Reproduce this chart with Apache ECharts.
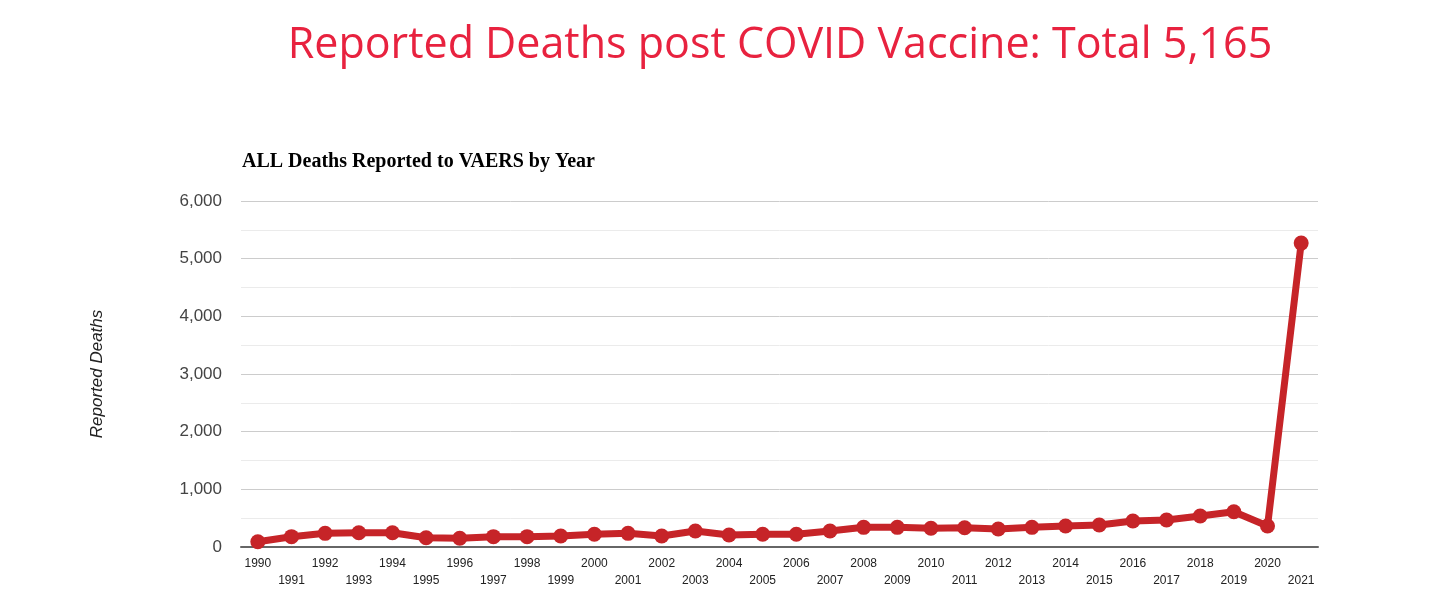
<!DOCTYPE html>
<html>
<head>
<meta charset="utf-8">
<script src="https://cdn.jsdelivr.net/npm/echarts@6/dist/echarts.min.js"></script>
<style>
    html, body { margin: 0; padding: 0; background: #fff; }
    #main { width: 1429px; height: 615px; }
</style>
</head>
<body>
<div id="main"></div>
<script>
    // years on the x axis
    var years = [];
    for (var y = 1990; y <= 2021; y++) years.push(String(y));
    // reported deaths per year
    var deaths = [92, 179, 237, 248, 248, 161, 151, 179, 179, 190, 220, 237, 190, 277, 208, 220,
                  220, 277, 341, 341, 324, 335, 312, 341, 364, 381, 451, 468, 538, 612, 364, 5270];
    var yTicks = [0, 1000, 2000, 3000, 4000, 5000, 6000];

    var red = '#c62428';
    var chart = echarts.init(document.getElementById('main'));
    chart.setOption({
        animation: false,
        title: [{
            text: 'Reported Deaths post COVID Vaccine: Total 5,165',
            left: 780, top: 24, textAlign: 'center', padding: 0,
            textStyle: { color: '#e8223f', fontSize: 43, fontWeight: 'normal', fontFamily: 'Open Sans' }
        }, {
            text: 'ALL Deaths Reported to VAERS by Year',
            left: 242, top: 152, padding: 0,
            textStyle: { color: '#000', fontSize: 20, fontWeight: 'bold', fontFamily: 'Liberation Serif' }
        }],
        grid: { left: 241, right: 111, top: 201, bottom: 68 },
        xAxis: {
            type: 'category',
            data: years,
            boundaryGap: true,
            axisLine: { lineStyle: { color: '#666', width: 2 } },
            axisTick: { show: false },
            axisLabel: {
                interval: 0, color: '#222', fontSize: 12, fontFamily: 'Liberation Sans',
                margin: 8, lineHeight: 17,
                formatter: function (v, i) { return i % 2 ? '\n' + v : v; }
            }
        },
        yAxis: {
            type: 'value',
            min: yTicks[0], max: yTicks[yTicks.length - 1], interval: 1000,
            name: 'Reported Deaths',
            nameLocation: 'middle', nameGap: 135, nameRotate: 90,
            nameTextStyle: { color: '#222', fontSize: 17, fontStyle: 'italic', fontFamily: 'Liberation Sans' },
            axisLabel: {
                color: '#444', fontSize: 17, fontFamily: 'Liberation Sans', margin: 19,
                formatter: function (v) { return v.toLocaleString('en-US'); }
            },
            splitLine: { lineStyle: { color: '#cccccc', width: 1 } },
            minorTick: { show: false, splitNumber: 2 },
            minorSplitLine: { show: true, lineStyle: { color: '#ebebeb', width: 1 } }
        },
        series: [{
            type: 'line',
            data: deaths,
            symbol: 'circle',
            symbolSize: 15,
            itemStyle: { color: red },
            lineStyle: { color: red, width: 7 }
        }]
    });
</script>
</body>
</html>
